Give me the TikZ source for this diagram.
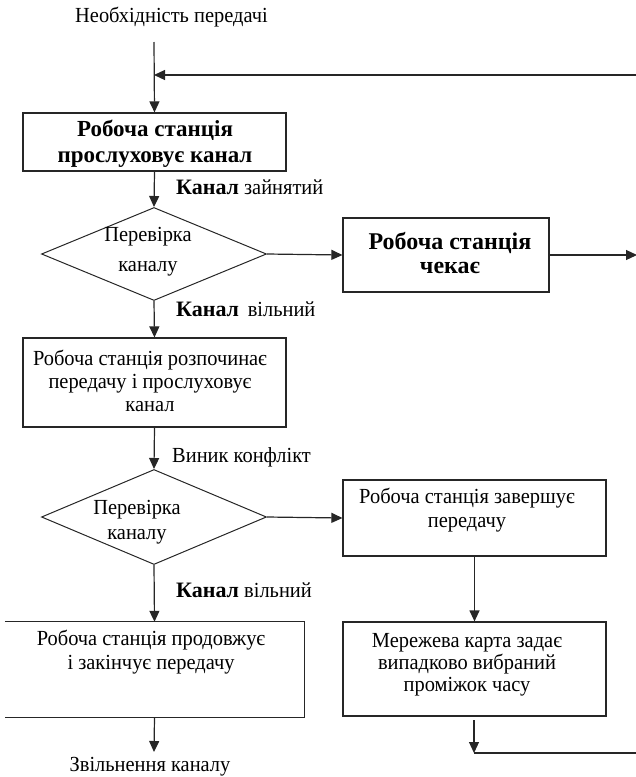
\documentclass[tikz,border=0pt]{standalone}
\usepackage{fontspec}
\setmainfont{Liberation Serif}
\newfontfamily\regf[FakeStretch=0.95]{Liberation Serif}
\usetikzlibrary{arrows.meta,shapes.geometric}
\begin{document}
\begin{tikzpicture}[x=1pt,y=-1pt,
  line/.style={line width=1.2pt, draw=black!85},
  arr/.style={line, -{Triangle[length=11pt,width=10pt]}},
  box/.style={draw=black!85, line width=1.2pt, inner sep=0pt},
  dia/.style={diamond, draw=black!85, line width=1pt, inner sep=0pt, minimum width=225pt, minimum height=93pt},
  txt/.style={font=\regf\fontsize{21.5}{24}\selectfont, align=center, inner sep=0pt},
  btxt/.style={font=\fontsize{23}{26}\selectfont\bfseries, align=center, inner sep=0pt},
  lbl/.style={font=\regf\fontsize{21.5}{24}\selectfont, anchor=west, inner sep=0pt}]
\useasboundingbox (0,0) rectangle (636,777);
\clip (0,0) rectangle (636,777);

% top text
\node[lbl] (start) at (75,17) {Необхідність передачі};
\coordinate (s0) at (154,42);
\coordinate (r0) at (640,75);
\coordinate (j0) at (154,75);

% boxes
\node[box, minimum width=263pt, minimum height=58pt] (b1) at (154.5,142) {};
\node[btxt] (t1) at (155,144) {Робоча станція\\прослуховує канал};

\node[dia] (d1) at (154,254) {};
\node[txt, font=\regf\fontsize{21.5}{30}\selectfont] (td1) at (148,252) {Перевірка\\каналу};

\node[box, minimum width=206pt, minimum height=74pt] (b2) at (446,255) {};
\node[btxt, font=\fontsize{24}{24}\selectfont\bfseries] (t2) at (450,253) {Робоча станція\\чекає};
\coordinate (r2) at (637,255);

\node[box, minimum width=263pt, minimum height=89pt] (b3) at (154.5,382.5) {};
\node[txt, font=\regf\fontsize{21.5}{23}\selectfont] (t3) at (150,381) {Робоча станція розпочинає\\передачу і прослуховує\\канал\hspace{34pt}};

\node[dia, minimum height=95pt] (d2) at (154,517) {};
\node[txt, font=\regf\fontsize{21.5}{25}\selectfont] (td2) at (137,522) {Перевірка\\каналу};

\node[box, minimum width=263pt, minimum height=76pt] (b4) at (474.5,518) {};
\node[txt] (t4) at (467,510) {Робоча станція завершує\\передачу};

\node[box, minimum width=263pt, minimum height=94pt] (b5) at (474.5,669) {};
\node[txt, font=\regf\fontsize{21.5}{22}\selectfont] (t5) at (467,665) {Мережева карта задає\\випадково вибраний\\проміжок часу};
\coordinate (c5a) at (474,720);
\coordinate (c5b) at (474,753);
\coordinate (r5) at (640,753);

\node[minimum width=299pt, minimum height=95pt, inner sep=0pt] (b6) at (154.5,669.5) {};
\draw[line] (b6.north west) -- (b6.north east) -- (b6.south east) -- (b6.south west);
\node[txt] (t6) at (151,652) {Робоча станція продовжує\\і закінчує передачу};
\coordinate (e6) at (154,752);
\node[txt] (end) at (150,767) {Звільнення каналу};

% labels
\node[lbl] (l1) at (176,187) {{\rmfamily\fontsize{22}{24}\selectfont\bfseries Канал} зайнятий};
\node[lbl] (l2) at (176,309) {{\rmfamily\fontsize{22}{24}\selectfont\bfseries Канал} \,вільний};
\node[lbl] (l3) at (172,457) {Виник конфлікт};
\node[lbl] (l4) at (176,590) {{\rmfamily\fontsize{22}{24}\selectfont\bfseries Канал} вільний};

% connectors
\draw[arr] (s0) -- (b1.north);
\draw[arr] (r0) -- (j0);
\draw[arr] (b1.south) -- (d1.north);
\draw[arr] (d1.east) -- (b2.west);
\draw[arr] (b2.east) -- (r2);
\draw[arr] (d1.south) -- (b3.north);
\draw[arr] (b3.south) -- (d2.north);
\draw[arr] (d2.east) -- (b4.west);
\draw[arr] (d2.south) -- (b6.north);
\draw[arr] (b4.south) -- (b5.north);
\draw[arr] (c5a) -- (c5b);
\draw[line] (c5b) -- (r5);
\draw[arr] (b6.south) -- (e6);
\end{tikzpicture}
\end{document}
